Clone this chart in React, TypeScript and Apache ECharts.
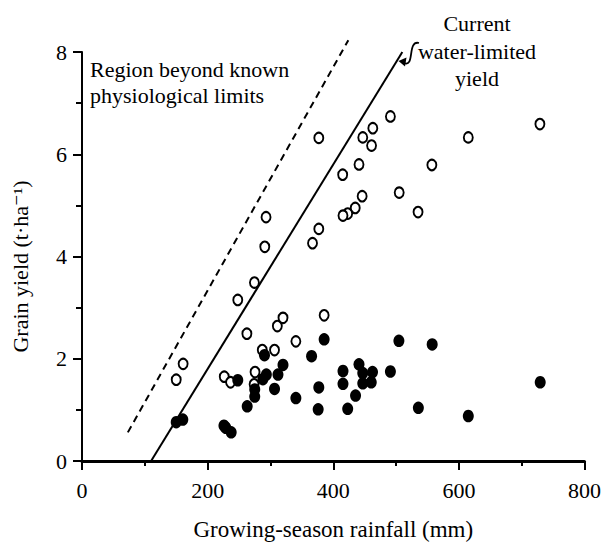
import React, { useEffect, useRef } from "react";
import * as echarts from "echarts";

// Open circles
const openRain = [150, 161, 248, 274.5, 291, 293, 377, 377, 367, 415, 441, 447, 463, 461, 491, 615, 729, 557, 505, 535, 446, 435, 423, 415.5, 262.5, 311, 320, 385.5, 340.5, 306.5, 287, 226.5, 236.5, 275.5, 274];
const openYield = [1.59, 1.9, 3.15, 3.49, 4.19, 4.77, 6.32, 4.54, 4.26, 5.6, 5.8, 6.33, 6.51, 6.17, 6.74, 6.33, 6.59, 5.79, 5.25, 4.87, 5.18, 4.95, 4.84, 4.8, 2.49, 2.64, 2.8, 2.85, 2.34, 2.17, 2.17, 1.65, 1.54, 1.74, 1.5];

// Filled circles
const filledRain = [150, 160.5, 226, 229, 237.5, 248, 263, 275, 275, 288, 290.5, 293.5, 306.5, 312, 320, 340.5, 365.5, 377, 376, 385.5, 415.5, 415.5, 423, 435.5, 441, 447, 447, 462.5, 460.5, 491, 504.5, 535.5, 557.5, 615, 729.5];
const filledYield = [0.76, 0.81, 0.69, 0.65, 0.56, 1.58, 1.07, 1.26, 1.4, 1.6, 2.07, 1.69, 1.41, 1.69, 1.88, 1.23, 2.05, 1.44, 1.01, 2.38, 1.76, 1.51, 1.02, 1.28, 1.89, 1.72, 1.52, 1.74, 1.54, 1.75, 2.35, 1.04, 2.28, 0.88, 1.54];

// Boundary lines [rainfall, yield]
const waterLimitedLine = [[110, 0], [510, 8]];
const physiologicalLine = [[73, 0.56], [424, 8.23]];

const xTicks = [0, 200, 400, 600, 800];
const yTicks = [0, 2, 4, 6, 8];

const FONT = "'Liberation Serif', 'DejaVu Serif', 'Times New Roman', serif";

export default function App() {
  const ref = useRef<HTMLDivElement>(null);
  useEffect(() => {
    if (!ref.current) return;
    const chart = echarts.init(ref.current, null, { renderer: "svg" });
    const openData = openRain.map((x, i) => [x, openYield[i]]);
    const filledData = filledRain.map((x, i) => [x, filledYield[i]]);
    chart.setOption({
      animation: false,
      backgroundColor: "#ffffff",
      grid: { left: 82, right: 19, top: 52, bottom: 81 },
      xAxis: {
        type: "value",
        min: xTicks[0],
        max: xTicks[xTicks.length - 1],
        interval: 200,
        name: "Growing-season rainfall (mm)",
        nameLocation: "middle",
        nameGap: 57,
        nameTextStyle: { fontFamily: FONT, fontSize: 23, color: "#000" },
        axisLine: { show: true, lineStyle: { color: "#000", width: 3 } },
        axisTick: { show: true, length: 9, lineStyle: { color: "#000", width: 2 } },
        minorTick: { show: true, splitNumber: 2, length: 5, lineStyle: { color: "#000", width: 2 } },
        axisLabel: { fontFamily: FONT, fontSize: 22, color: "#000", margin: 18 },
        splitLine: { show: false },
      },
      yAxis: {
        type: "value",
        min: yTicks[0],
        max: yTicks[yTicks.length - 1],
        interval: 2,
        name: "Grain yield (t·ha⁻¹)",
        nameLocation: "middle",
        nameGap: 51,
        nameTextStyle: { fontFamily: FONT, fontSize: 22, color: "#000", padding: [0, 20, 0, 0] },
        axisLine: { show: true, lineStyle: { color: "#000", width: 2 } },
        axisTick: { show: true, length: 9, lineStyle: { color: "#000", width: 2 } },
        minorTick: { show: true, splitNumber: 2, length: 6, lineStyle: { color: "#000", width: 2 } },
        axisLabel: { fontFamily: FONT, fontSize: 22, color: "#000", margin: 15 },
        splitLine: { show: false },
      },
      series: [
        {
          type: "line",
          data: physiologicalLine,
          clip: false,
          symbol: "none",
          lineStyle: { color: "#000", width: 2, type: [7, 5] },
          z: 2,
        },
        {
          type: "line",
          data: waterLimitedLine,
          clip: false,
          symbol: "none",
          lineStyle: { color: "#000", width: 2 },
          z: 2,
        },
        {
          type: "scatter",
          data: openData,
          symbol: "circle",
          symbolSize: [9, 10.5],
          itemStyle: { color: "#fff", borderColor: "#000", borderWidth: 2, opacity: 1 },
          z: 3,
        },
        {
          type: "scatter",
          data: filledData,
          symbol: "circle",
          symbolSize: [11, 12.5],
          itemStyle: { color: "#000", opacity: 1 },
          z: 4,
        },
      ],
      graphic: [
        {
          type: "text",
          x: 90,
          y: 69.5,
          style: { text: "Region beyond known", fontFamily: FONT, fontSize: 22, fill: "#000", textAlign: "left", textVerticalAlign: "middle" },
        },
        {
          type: "text",
          x: 90,
          y: 95.5,
          style: { text: "physiological limits", fontFamily: FONT, fontSize: 22, fill: "#000", textAlign: "left", textVerticalAlign: "middle" },
        },
        {
          type: "text",
          x: 477,
          y: 23,
          style: { text: "Current", fontFamily: FONT, fontSize: 22, fill: "#000", textAlign: "center", textVerticalAlign: "middle" },
        },
        {
          type: "text",
          x: 477,
          y: 51,
          style: { text: "water-limited", fontFamily: FONT, fontSize: 22, fill: "#000", textAlign: "center", textVerticalAlign: "middle" },
        },
        {
          type: "text",
          x: 477,
          y: 78.5,
          style: { text: "yield", fontFamily: FONT, fontSize: 22, fill: "#000", textAlign: "center", textVerticalAlign: "middle" },
        },
        {
          type: "polygon",
          shape: { points: [[398.5, 61], [406.5, 57.5], [405, 66.5]] },
          style: { fill: "#000" },
        },
        {
          type: "bezierCurve",
          shape: { x1: 404, y1: 63, cpx1: 415, cpy1: 68, cpx2: 407, cpy2: 40, x2: 419, y2: 43 },
          style: { stroke: "#000", lineWidth: 1.8, fill: "none" },
        },
      ],
    });
    return () => chart.dispose();
  }, []);
  return (
    <div
      ref={ref}
      style={{ position: "absolute", left: 0, top: 0, width: 604, height: 546, background: "#fff" }}
    />
  );
}
